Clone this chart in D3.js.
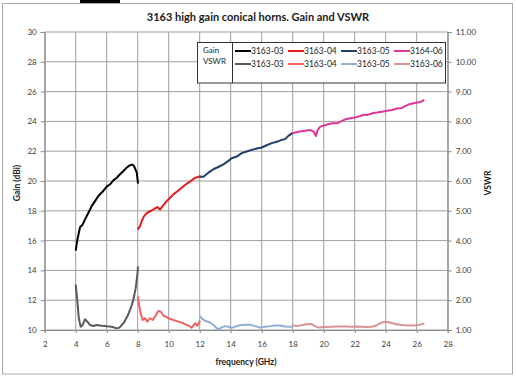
<!DOCTYPE html>
<html><head><meta charset="utf-8">
<script src="https://cdn.jsdelivr.net/npm/d3@7"></script>
<style>
html,body{margin:0;padding:0;background:#fff;}
svg{display:block;font-family:Lato,"Open Sans",sans-serif;}
</style></head>
<body>
<svg id="c" width="516" height="380"></svg>
<script>
// ---- data ----
const title = "3163 high gain conical horns. Gain and VSWR";
const xTicks = [2,4,6,8,10,12,14,16,18,20,22,24,26,28];
const gainTicks = [10,12,14,16,18,20,22,24,26,28,30];
const vswrTicks = [1,2,3,4,5,6,7,8,9,10,11];

const gain03 = [[4,15.33],[4.11,16.07],[4.28,16.9],[4.45,17.08],[4.6,17.42],[4.82,17.87],[5.03,18.31],[5.25,18.65],[5.46,18.99],[5.78,19.33],[6.0,19.62],[6.22,19.78],[6.43,20.04],[6.65,20.22],[6.86,20.45],[7.08,20.67],[7.29,20.9],[7.5,21.06],[7.66,21.1],[7.78,20.97],[7.94,20.56],[8.02,19.82]];
const gain04 = [[8.0,16.74],[8.15,16.97],[8.26,17.3],[8.41,17.64],[8.62,17.87],[8.9,18.02],[9.12,18.16],[9.27,18.25],[9.44,18.09],[9.61,18.31],[9.87,18.65],[10.09,18.88],[10.3,19.1],[10.52,19.28],[10.84,19.55],[11.05,19.73],[11.27,19.89],[11.48,20.04],[11.7,20.22],[11.91,20.27],[12.06,20.34]];
const gain05 = [[12,20.29],[12.24,20.29],[12.56,20.56],[12.88,20.79],[13.2,20.94],[13.53,21.12],[13.85,21.35],[14.06,21.53],[14.39,21.64],[14.71,21.87],[15.03,21.98],[15.35,22.09],[15.68,22.18],[16.0,22.25],[16.32,22.4],[16.65,22.54],[16.97,22.63],[17.29,22.76],[17.51,22.81],[17.72,23.03],[17.98,23.21]];
const gain06 = [[17.98,23.21],[18.37,23.3],[18.8,23.37],[19.14,23.42],[19.35,23.31],[19.5,23.02],[19.61,23.42],[19.78,23.65],[20.11,23.76],[20.54,23.87],[20.86,23.87],[21.08,23.98],[21.4,24.14],[21.72,24.21],[22.04,24.27],[22.37,24.36],[22.58,24.45],[22.8,24.43],[23.12,24.54],[23.44,24.59],[23.76,24.65],[24.09,24.72],[24.41,24.77],[24.73,24.86],[25.05,24.9],[25.27,25.04],[25.48,25.13],[25.81,25.22],[26.13,25.28],[26.34,25.35],[26.49,25.44]];

const vswr03 = [[4,2.52],[4.11,1.955],[4.2,1.395],[4.32,1.11],[4.45,1.17],[4.6,1.36],[4.75,1.28],[4.92,1.17],[5.14,1.135],[5.35,1.17],[5.68,1.145],[6.0,1.125],[6.32,1.11],[6.65,1.055],[6.82,1.08],[7.08,1.225],[7.33,1.45],[7.55,1.73],[7.72,2.01],[7.87,2.405],[7.98,2.855],[8.02,3.135]];
const vswr04 = [[8.0,2.125],[8.09,1.845],[8.19,1.56],[8.32,1.335],[8.47,1.395],[8.62,1.28],[8.8,1.395],[8.97,1.335],[9.18,1.505],[9.33,1.64],[9.48,1.62],[9.66,1.485],[9.98,1.395],[10.3,1.335],[10.62,1.28],[10.95,1.225],[11.27,1.145],[11.48,1.08],[11.7,1.225],[11.85,1.145],[12.02,1.315]];
const vswr05 = [[12,1.47],[12.13,1.39],[12.34,1.31],[12.67,1.25],[12.88,1.17],[13.1,1.06],[13.25,1.03],[13.42,1.09],[13.63,1.13],[13.85,1.11],[14.06,1.07],[14.28,1.11],[14.6,1.16],[14.92,1.18],[15.25,1.18],[15.57,1.13],[15.89,1.08],[16.22,1.11],[16.54,1.13],[16.86,1.15],[17.18,1.15],[17.5,1.12],[17.83,1.11],[18.0,1.11]];
const vswr06 = [[18.0,1.16],[18.26,1.13],[18.58,1.16],[18.9,1.19],[19.23,1.2],[19.44,1.13],[19.7,1.08],[20.09,1.1],[20.52,1.11],[20.95,1.12],[21.38,1.12],[21.81,1.11],[22.24,1.12],[22.67,1.1],[23.1,1.11],[23.42,1.16],[23.74,1.25],[24.0,1.28],[24.28,1.25],[24.6,1.2],[25.03,1.17],[25.46,1.15],[25.89,1.15],[26.22,1.18],[26.49,1.22]];

const gainNames = ["3163-03","3163-04","3163-05","3164-06"];
const vswrNames = ["3163-03","3163-04","3163-05","3163-06"];
const gainColors = ["#000000","#e31b1b","#1f3d6b","#e0359a"];
const vswrColors = ["#595959","#f06262","#93aed6","#d99393"];

// ---- drawing ----
const svg = d3.select("#c");
const L = 44.7, R = 447.7, T = 32, B = 330;
const x = d3.scaleLinear().domain([2,28]).range([L,R]);
const yG = d3.scaleLinear().domain([10,30]).range([B,T]);
const yV = d3.scaleLinear().domain([1,11]).range([B,T]);

// frame
svg.append("rect").attr("x",2.5).attr("y",3.5).attr("width",510).attr("height",370.5)
  .attr("fill","#fff").attr("stroke","#a8a8a8").attr("stroke-width",1);
svg.append("rect").attr("x",80).attr("y",0).attr("width",40).attr("height",3).attr("fill","#000");

// gridlines
const grid = svg.append("g");
grid.selectAll("line.v").data(xTicks).join("line")
  .attr("x1",d=>x(d)).attr("x2",d=>x(d)).attr("y1",T).attr("y2",B)
  .attr("stroke","#9e9e9e").attr("stroke-width",1);
grid.selectAll("line.h").data(gainTicks).join("line")
  .attr("x1",L).attr("x2",R).attr("y1",d=>yG(d)).attr("y2",d=>yG(d))
  .attr("stroke","#9e9e9e").attr("stroke-width",1);

// axes
function styleAxis(g){
  g.select(".domain").attr("stroke","#8a8a8a");
  g.selectAll(".tick line").attr("stroke","#8a8a8a");
  g.selectAll(".tick text").attr("fill","#404040").style("font-size","8px").style("font-family","Lato,sans-serif");
}
svg.append("g").attr("transform",`translate(${L},0)`)
  .call(d3.axisLeft(yG).tickValues(gainTicks).tickSize(4).tickPadding(4).tickFormat(d3.format("d")))
  .call(styleAxis);
svg.append("g").attr("transform",`translate(${R},0)`)
  .call(d3.axisRight(yV).tickValues(vswrTicks).tickSize(4).tickPadding(4).tickFormat(d3.format(".2f")))
  .call(styleAxis);
svg.append("g").attr("transform",`translate(0,${B})`)
  .call(d3.axisBottom(x).tickValues(xTicks).tickSize(3).tickPadding(8).tickFormat(d3.format("d")))
  .call(styleAxis);

// series
const lineG = d3.line().x(d=>x(d[0])).y(d=>yG(d[1]));
const lineV = d3.line().x(d=>x(d[0])).y(d=>yV(d[1]));
const gainSeries = [gain03,gain04,gain05,gain06];
const vswrSeries = [vswr03,vswr04,vswr05,vswr06];
vswrSeries.forEach((s,i)=>{
  svg.append("path").attr("d",lineV(s)).attr("fill","none")
    .attr("stroke",vswrColors[i]).attr("stroke-width",2).attr("stroke-linejoin","round");
});
gainSeries.forEach((s,i)=>{
  svg.append("path").attr("d",lineG(s)).attr("fill","none")
    .attr("stroke",gainColors[i]).attr("stroke-width",2).attr("stroke-linejoin","round");
});

// titles
svg.append("text").attr("x",258).attr("y",21).attr("text-anchor","middle")
  .style("font-size","11px").style("font-weight","bold").attr("fill","#1a1a1a").text(title);
svg.append("text").attr("x",246).attr("y",365).attr("text-anchor","middle")
  .style("font-size","8.5px").style("font-weight","bold").attr("fill","#1a1a1a").text("frequency (GHz)");
svg.append("text").attr("transform","translate(20,183) rotate(-90)").attr("text-anchor","middle")
  .style("font-size","8.5px").style("font-weight","bold").attr("fill","#1a1a1a").text("Gain (dBi)");
svg.append("text").attr("transform","translate(491,183) rotate(-90)").attr("text-anchor","middle")
  .style("font-size","8.5px").style("font-weight","bold").attr("fill","#1a1a1a").text("VSWR");

// legend
const lg = svg.append("g");
lg.append("rect").attr("x",197.5).attr("y",42.5).attr("width",248).attr("height",40.5)
  .attr("fill","#fff").attr("stroke","#333").attr("stroke-width",1);
lg.append("line").attr("x1",232.5).attr("x2",232.5).attr("y1",42.5).attr("y2",83)
  .attr("stroke","#333").attr("stroke-width",1);
lg.append("text").attr("x",203).attr("y",53).style("font-size","8px").attr("fill","#222").text("Gain");
lg.append("text").attr("x",203).attr("y",64).style("font-size","8px").attr("fill","#222").text("VSWR");
const entryX = [235,288,341,394];
[[gainNames,gainColors,51],[vswrNames,vswrColors,64]].forEach(([names,cols,yy])=>{
  names.forEach((n,i)=>{
    lg.append("line").attr("x1",entryX[i]).attr("x2",entryX[i]+16).attr("y1",yy).attr("y2",yy)
      .attr("stroke",cols[i]).attr("stroke-width",2);
    lg.append("text").attr("x",entryX[i]+16).attr("y",yy+3).style("font-size","8.5px")
      .attr("fill","#222").text(n);
  });
});
</script>
</body></html>
